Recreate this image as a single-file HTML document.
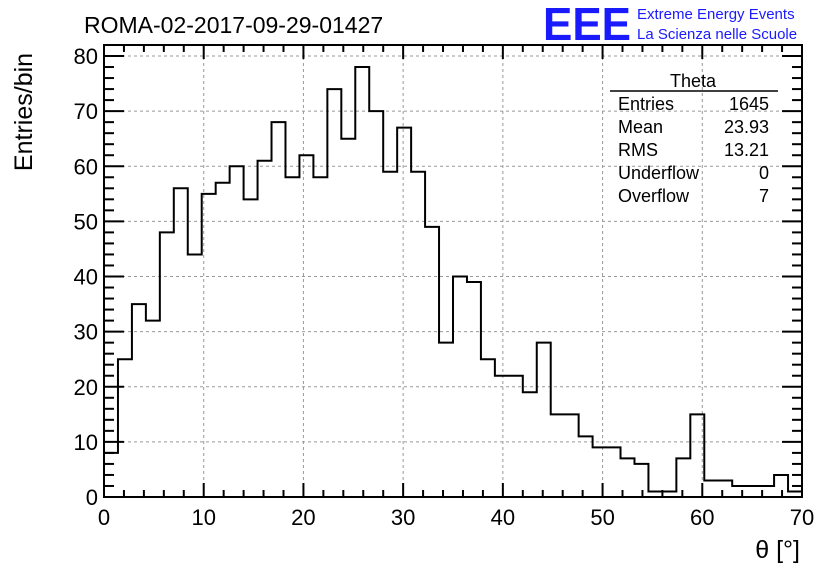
<!DOCTYPE html>
<html><head><meta charset="utf-8"><style>
body{margin:0;background:#fff;}
svg{display:block;font-family:"Liberation Sans",sans-serif;}
</style></head><body>
<svg id="c" width="836" height="572">
<text x="84" y="33" font-size="23">ROMA-02-2017-09-29-01427</text>
<text x="543" y="40" font-size="46" fill="#1a1aff" font-weight="bold" textLength="88" lengthAdjust="spacingAndGlyphs">EEE</text>
<text x="637" y="19" font-size="15" fill="#1a1aff">Extreme Energy Events</text>
<text x="637" y="39" font-size="15" fill="#1a1aff">La Scienza nelle Scuole</text>
<text transform="translate(32,112) rotate(-90)" font-size="25" text-anchor="middle">Entries/bin</text>
<text x="800" y="558" font-size="25" text-anchor="end">θ [°]</text>
<g id="grid"></g><g id="ticks"></g>
<path id="hist" fill="none" stroke="#000" stroke-width="2"></path>
<rect x="104" y="45" width="698" height="452" fill="none" stroke="#000" stroke-width="2"></rect>
<g font-size="18">
<text x="693" y="87" text-anchor="middle">Theta</text>
<line x1="610" y1="91" x2="778" y2="91" stroke="#000" stroke-width="1.5"/>
<text x="618" y="110">Entries</text><text x="769" y="110" text-anchor="end">1645</text>
<text x="618" y="133">Mean</text><text x="769" y="133" text-anchor="end">23.93</text>
<text x="618" y="156">RMS</text><text x="769" y="156" text-anchor="end">13.21</text>
<text x="618" y="179">Underflow</text><text x="769" y="179" text-anchor="end">0</text>
<text x="618" y="202">Overflow</text><text x="769" y="202" text-anchor="end">7</text>
</g>
</svg>
<script>
const counts=[8,25,35,32,48,56,44,55,57,60,54,61,68,58,62,58,74,65,78,70,59,67,59,49,28,40,39,25,22,22,19,28,15,15,11,9,9,7,6,1,1,7,15,3,3,2,2,2,4,1];
const xTicks=[0,10,20,30,40,50,60,70];
const yTicks=[0,10,20,30,40,50,60,70,80];
const xMin=0,xMax=70,yMin=0,yMax=80;
const L=104,R=802,T=45,B=497,Y80=56;
const sx=v=>L+(v-xMin)/(xMax-xMin)*(R-L);
const sy=v=>B-(v-yMin)/(yMax-yMin)*(B-Y80);
const NS="http://www.w3.org/2000/svg";
const svg=document.getElementById('c');
const grid=document.getElementById('grid'),ticks=document.getElementById('ticks');
function mk(tag,a,parent){const e=document.createElementNS(NS,tag);for(const k in a)e.setAttribute(k,a[k]);parent.appendChild(e);return e;}
xTicks.forEach(v=>{const x=sx(v);
 if(v>xMin&&v<xMax){const g=mk('line',{x1:x,y1:T,x2:x,y2:B,stroke:'#999','stroke-dasharray':'3,3'},grid);
 
 }
 const t=mk('text',{x:x,y:525,'font-size':22,'text-anchor':'middle'},svg);t.textContent=v;
 
 
});
yTicks.forEach(v=>{const y=sy(v);
 if(v>yMin){const g=mk('line',{x1:L,y1:y,x2:R,y2:y,stroke:'#999','stroke-dasharray':'3,3'},grid);
 
 }
 const t=mk('text',{x:98,y:y+8,'font-size':22,'text-anchor':'end'},svg);t.textContent=v;
 
 
});
for(let v=xMin;v<=xMax;v+=2){const x=sx(v),len=v%10===0?14:7;
 mk('line',{x1:x,y1:B,x2:x,y2:B-len,stroke:'#000','stroke-width':2},ticks);
 mk('line',{x1:x,y1:T,x2:x,y2:T+len,stroke:'#000','stroke-width':2},ticks);}
for(let v=yMin;v<=yMax+3;v+=2){const y=sy(v);if(y<T)break;const len=v%10===0?20:10;
 mk('line',{x1:L,y1:y,x2:L+len,y2:y,stroke:'#000','stroke-width':2},ticks);
 mk('line',{x1:R,y1:y,x2:R-len,y2:y,stroke:'#000','stroke-width':2},ticks);}
const w=(xMax-xMin)/counts.length;
let d='M'+sx(0)+','+sy(counts[0]);
counts.forEach((c,i)=>{ if(i>0)d+=' L'+sx(i*w)+','+sy(c); d+=' L'+sx((i+1)*w)+','+sy(c);});
d+=' L'+sx(xMax)+','+sy(0);
document.getElementById('hist').setAttribute('d',d);
</script>
</body></html>
